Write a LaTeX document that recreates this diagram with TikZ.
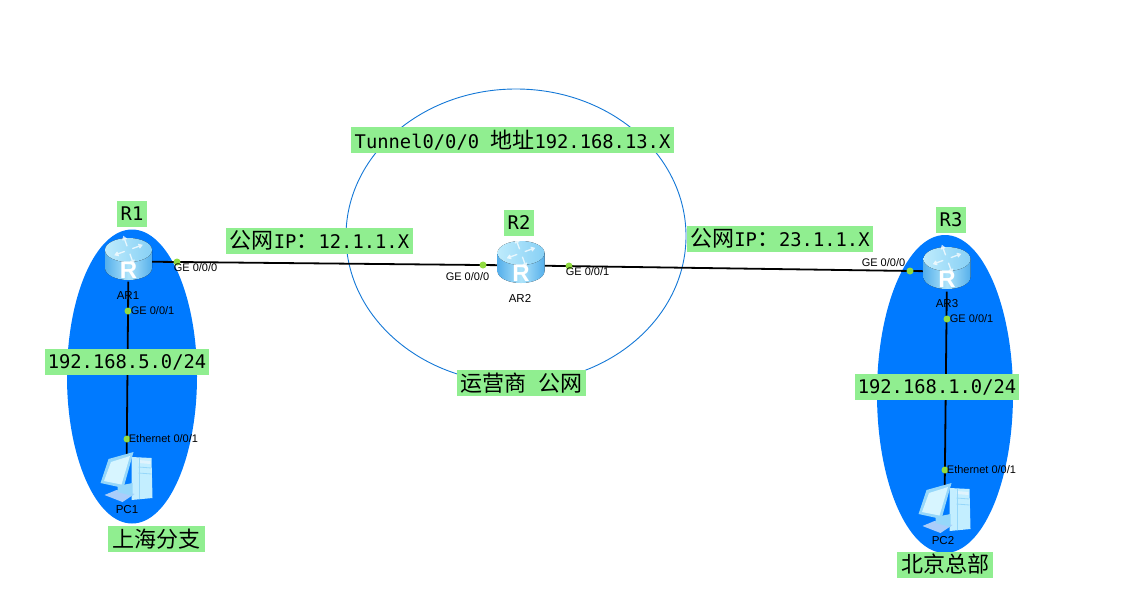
\documentclass[tikz,border=0pt]{standalone}
\usepackage{fontspec}
\setmainfont{Liberation Sans}
\newfontfamily\monofont{DejaVu Sans Mono}
\newfontfamily\cjkfont{Noto Sans CJK SC}
\usetikzlibrary{positioning}

\definecolor{zoneblue}{RGB}{0,122,255}
\definecolor{cloudblue}{RGB}{20,120,215}
\definecolor{labelgreen}{RGB}{144,238,144}
\definecolor{portgreen}{RGB}{145,220,65}
\definecolor{bodydark}{RGB}{85,175,235}
\definecolor{bodylight}{RGB}{175,228,250}
\definecolor{toplight}{RGB}{190,235,252}
\definecolor{topdark}{RGB}{135,208,245}
\definecolor{pcframe}{RGB}{150,215,250}
\definecolor{pcscreen}{RGB}{215,245,255}
\definecolor{pcside}{RGB}{195,238,255}
\definecolor{pcbase}{RGB}{170,205,250}

\newcommand{\cn}[2][22pt]{{\cjkfont\fontsize{#1}{#1}\selectfont #2}}

\tikzset{
  netlink/.style={line width=1.8pt, black},
  zone/.style={fill=zoneblue},
  devbox/.style={inner sep=0pt, minimum width=47pt, minimum height=40pt},
  port/.style={circle, fill=portgreen, inner sep=0pt, minimum size=7pt},
  portlabel/.style={inner sep=0pt, font=\fontsize{11pt}{12pt}\selectfont},
  devlabel/.style={inner sep=0pt, font=\fontsize{11.5pt}{12pt}\selectfont},
  greenlabel/.style={fill=labelgreen, inner sep=0pt, minimum height=26pt,
    font=\monofont\fontsize{18.8pt}{20pt}\selectfont},
  pics/routericon/.style={code={
    \fill [left color=bodydark, right color=bodydark, middle color=bodylight]
      (-23.5,-9) -- (-23.5,9) arc [start angle=180, end angle=360, x radius=23.5pt, y radius=12pt]
      -- (23.5,-9) -- cycle;
    \fill [left color=toplight, right color=topdark] (0,-9) ellipse [x radius=23.5pt, y radius=12pt];
    \foreach \ang in {20,110,200,290} {
      \draw [white, opacity=0.75, line width=1.3pt, rotate around={\ang:(0,-9)}]
        (4,-9) -- (14,-9) (11,-11) -- (14,-9) -- (11,-7);
    }
    \node (-letter) [white, inner sep=0pt, font=\bfseries\fontsize{24pt}{24pt}\selectfont] at (0,11) {R};
  }},
  pics/pcicon/.style={code={
    \fill [pcside] (5,-20) -- (25,-19) -- (26,21) -- (5,23) -- cycle;
    \fill [white!70!pcframe] (12,-17) -- (24,-16) -- (24,-13) -- (12,-14) -- cycle;
    \draw [pcframe, line width=0.8pt] (12,-4) -- (25,-3) (12,-10) -- (25,-9) (13,-19) -- (13,22);
    \fill [pcbase] (-22,18) -- (-10,13) -- (8,17) -- (-4,25) -- cycle;
    \fill [pcframe] (-9,9) -- (6,6) -- (6,19) -- (-9,15) -- cycle;
    \fill [pcframe] (-18,-18) -- (7,-25) -- (-3,11) -- (-26,6) -- cycle;
    \fill [pcscreen] (-15.5,-15) -- (3.5,-21) -- (-5,7.5) -- (-22.5,4) -- cycle;
  }},
}

\begin{document}
\begin{tikzpicture}[x=1pt, y=-1pt]

  \useasboundingbox [fill=white] (0,0) rectangle (1137,611);

  % zones
  \fill [zone] (132,376.5) ellipse [x radius=65pt, y radius=147pt];
  \fill [zone] (945,394) ellipse [x radius=68pt, y radius=159pt];
  \draw [cloudblue, line width=0.9pt] (516,236) ellipse [x radius=170pt, y radius=147pt];

  % devices
  \node (AR1) [devbox] at (128.5,261.5) {};
  \node (AR2) [devbox] at (521,265.4) {};
  \node (AR3) [devbox] at (947,271.5) {};
  \node (PC1) [devbox] at (126.5,477) {};
  \node (PC2) [devbox] at (944.5,508) {};

  % links
  \draw [netlink] (AR1) -- (AR2);
  \draw [netlink] (AR2) -- (AR3);
  \draw [netlink] (AR1) -- (PC1);
  \draw [netlink] (AR3) -- (PC2);

  % icons
  \pic (iconAR1) at ([yshift=2.5pt]AR1) {routericon};
  \pic (iconAR2) at ([yshift=3.4pt]AR2) {routericon};
  \pic (iconAR3) at ([yshift=3.5pt]AR3) {routericon};
  \pic (iconPC1) at (PC1) {pcicon};
  \pic (iconPC2) at (PC2) {pcicon};

  % ports
  \node (p1) [port] at (177,262) {};
  \node (p2) [port] at (128,311) {};
  \node (p3) [port] at (127,439) {};
  \node (p4) [port] at (483,265) {};
  \node (p5) [port] at (569,266) {};
  \node (p6) [port] at (910,271) {};
  \node (p7) [port] at (947,319) {};
  \node (p8) [port] at (945,470) {};

  \node (l1) [portlabel, below right=-1pt and -6pt of p1] {GE 0/0/0};
  \node (l2) [portlabel, right=-1pt of p2] {GE 0/0/1};
  \node (l3) [portlabel, right=-2pt of p3] {Ethernet 0/0/1};
  \node (l4) [portlabel, below left=5pt and -9pt of p4] {GE 0/0/0};
  \node (l5) [portlabel, below right=-1pt and -6pt of p5] {GE 0/0/1};
  \node (l6) [portlabel, above left=2pt and 2pt of p6] {GE 0/0/0};
  \node (l7) [portlabel, right=-1pt of p7] {GE 0/0/1};
  \node (l8) [portlabel, right=-2pt of p8] {Ethernet 0/0/1};

  \node (nameAR1) [devlabel] at (128,296) {AR1};
  \node (nameAR2) [devlabel] at (520,298) {AR2};
  \node (nameAR3) [devlabel] at (947,304) {AR3};
  \node (namePC1) [devlabel] at (127,510) {PC1};
  \node (namePC2) [devlabel] at (943,541) {PC2};

  % green labels
  \node (R1) [greenlabel, minimum width=30pt] at (132,214) {R1};
  \node (R2) [greenlabel, minimum width=30pt] at (519,223) {R2};
  \node (R3) [greenlabel, minimum width=30pt] at (951,219.5) {R3};
  \node (tunnel) [greenlabel, minimum width=323pt] at (512.5,140) {Tunnel0/0/0 \cn{地址}192.168.13.X};
  \node (ip12) [greenlabel, minimum width=187pt] at (319.5,240.5) {\cn{公网}IP\cn{：}12.1.1.X};
  \node (ip23) [greenlabel, minimum width=186pt] at (780,238.5) {\cn{公网}IP\cn{：}23.1.1.X};
  \node (lan5) [greenlabel, minimum width=164pt] at (127,362) {192.168.5.0/24};
  \node (lan1) [greenlabel, minimum width=164pt] at (937,387) {192.168.1.0/24};
  \node (isp) [greenlabel, minimum width=129pt] at (521.5,383) {\cn{运营商\hspace{12pt}公网}};
  \node (shanghai) [greenlabel, minimum width=97pt] at (156.5,539) {\cn{上海分支}};
  \node (beijing) [greenlabel, minimum width=96pt] at (945,564.5) {\cn{北京总部}};

\end{tikzpicture}
\end{document}
